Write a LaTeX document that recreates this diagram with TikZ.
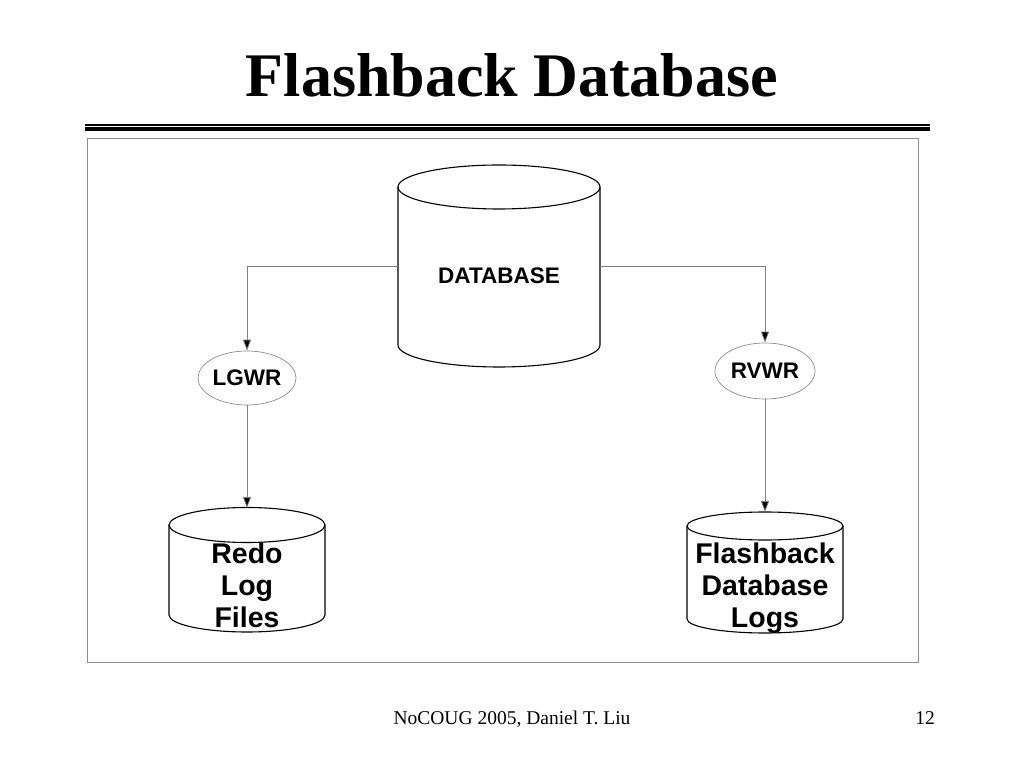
\documentclass[tikz,border=0pt]{standalone}
\usepackage{fontspec}
\setmainfont{Liberation Serif}
\newfontfamily\labelfont{Liberation Sans}
\usetikzlibrary{shapes.geometric,arrows.meta}
\tikzset{
  conn/.style={draw=black!50, line width=0.8pt, -{Triangle[length=11pt,width=8pt,fill=black]}},
  proc/.style={ellipse, draw=black!45, line width=0.7pt, inner sep=0pt, font=\labelfont\bfseries\fontsize{22.5}{24}\selectfont},
  cyl/.style={draw=black, line width=1.1pt},
  holder/.style={inner sep=0pt, outer sep=0pt},
  lbl/.style={font=\labelfont\bfseries\fontsize{28.5}{32}\selectfont, align=center, inner sep=0pt},
}
\begin{document}
\begin{tikzpicture}[x=1pt,y=1pt]
\useasboundingbox (0,0) rectangle (1024,768);
% title
\node[anchor=base, inner sep=0pt, font=\bfseries\fontsize{62}{70}\selectfont] (title) at (512,671) {Flashback Database};
\draw[line width=1.5pt] (85,643) -- (930,643);
\draw[line width=4pt] (85,638.5) -- (930,638.5);
% frame
\draw[draw=black!45, line width=0.8pt] (87,630) rectangle (918,106);
% top cylinder
\node[holder, minimum width=202pt, minimum height=202pt] (db) at (499,502) {};
\draw[cyl] (499,581) ellipse [x radius=101pt, y radius=22pt];
\draw[cyl] (398,581) -- (398,423) arc[start angle=180, end angle=360, x radius=101pt, y radius=22pt] -- (600,581);
\node[font=\labelfont\bfseries\fontsize{22.5}{24}\selectfont, inner sep=0pt] (dbtext) at (499,492) {DATABASE};
% processes
\node[proc, minimum width=98pt, minimum height=54pt] (lgwr) at (247,390) {LGWR};
\node[proc, minimum width=100pt, minimum height=56pt] (rvwr) at (765,397) {RVWR};
% redo cylinder
\node[holder, minimum width=156pt, minimum height=124pt] (redo) at (247,198) {};
\draw[cyl] (247,243) ellipse [x radius=78pt, y radius=17.5pt];
\draw[cyl] (169,243) -- (169,153) arc[start angle=180, end angle=360, x radius=78pt, y radius=17pt] -- (325,243);
\node[lbl] (redotext) at (247,183) {Redo\\Log\\Files};
% flashback cylinder
\node[holder, minimum width=156pt, minimum height=121pt] (fbl) at (765,195.5) {};
\draw[cyl] (765,242) ellipse [x radius=78pt, y radius=14pt];
\draw[cyl] (687,242) -- (687,149) arc[start angle=180, end angle=360, x radius=78pt, y radius=14pt] -- (843,242);
\node[lbl] (fbltext) at (765,180) {Flashback\\Database\\Logs};
% connectors
\draw[conn] (db.west) -| (lgwr.north);
\draw[conn] (db.east) -| (rvwr.north);
\draw[conn] (lgwr.south) -- (redo.north);
\draw[conn] (rvwr.south) -- (fbl.north);
% footer
\node[anchor=base, inner sep=0pt, font=\fontsize{19.5}{22}\selectfont] (foot) at (512,44) {NoCOUG 2005, Daniel T. Liu};
\node[anchor=base east, inner sep=0pt, font=\fontsize{19.5}{22}\selectfont] (page) at (935,44) {12};
\end{tikzpicture}
\end{document}
